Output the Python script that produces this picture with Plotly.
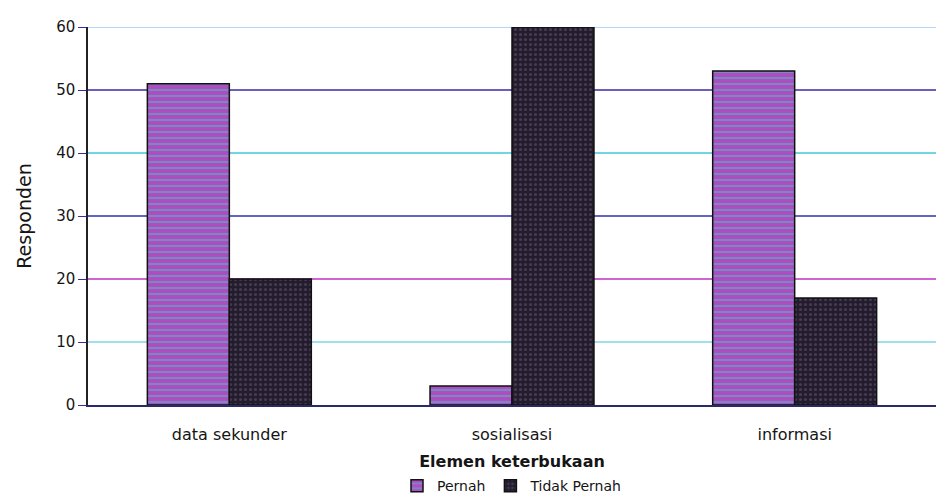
import plotly.graph_objects as go

categories = ["data sekunder", "sosialisasi", "informasi"]
pernah = [51, 3, 53]
tidak_pernah = [20, 60, 17]
y_ticks = [0, 10, 20, 30, 40, 50, 60]
grid_colors = ["#2020c0", "#7fd6e8", "#c030c0", "#3030b0", "#40c8d8", "#3a2aa8", "#9cc8f0"]

FONT = "DejaVu Sans, Liberation Sans, Arial, sans-serif"

fig = go.Figure()
fig.add_trace(go.Bar(
    name="Pernah", x=categories, y=pernah,
    marker=dict(color="#8e5ac8", line=dict(color="#111111", width=1.5),
                pattern=dict(shape="-", fgcolor="#3cc8c8", bgcolor="#b04cc0", size=6, solidity=0.35)),
))
fig.add_trace(go.Bar(
    name="Tidak Pernah", x=categories, y=tidak_pernah,
    marker=dict(color="#2a2438", line=dict(color="#111111", width=1.5),
                pattern=dict(shape=".", fgcolor="#6a5a7a", bgcolor="#221c2c", size=5, solidity=0.3)),
))

for v, c in zip(y_ticks[1:], grid_colors[1:]):
    fig.add_shape(type="line", xref="paper", x0=0, x1=1, yref="y", y0=v, y1=v,
                  line=dict(color=c, width=1.5), layer="below")

fig.update_layout(
    width=936, height=495,
    margin=dict(l=88, r=0, t=27, b=90, autoexpand=False),
    paper_bgcolor="white", plot_bgcolor="white",
    barmode="group", bargap=0.42, bargroupgap=0,
    font=dict(family=FONT, size=14, color="#151515"),
    showlegend=True,
    legend=dict(orientation="h", x=0.5, xanchor="center", y=-0.215, yanchor="middle",
                font=dict(size=14), itemwidth=30, traceorder="normal"),
    xaxis=dict(showgrid=False, showline=True, linecolor="#2a2a6a", linewidth=2,
               ticks="", tickfont=dict(size=16), ticklabelstandoff=14, automargin=False,
               title=dict(text="<b>Elemen keterbukaan</b>", font=dict(size=16), standoff=13)),
    yaxis=dict(range=[0, 60], tickvals=y_ticks, showgrid=False, zeroline=False,
               showline=True, linecolor="#222222", linewidth=1.5,
               ticks="outside", ticklen=8, tickcolor="#3a2aa8", automargin=False,
               tickfont=dict(size=15),
               title=dict(text="Responden", font=dict(size=19), standoff=20)),
)

fig.write_html("out.html", config={"displayModeBar": False},
               post_script="document.body.style.margin='0';document.body.style.padding='0';")
